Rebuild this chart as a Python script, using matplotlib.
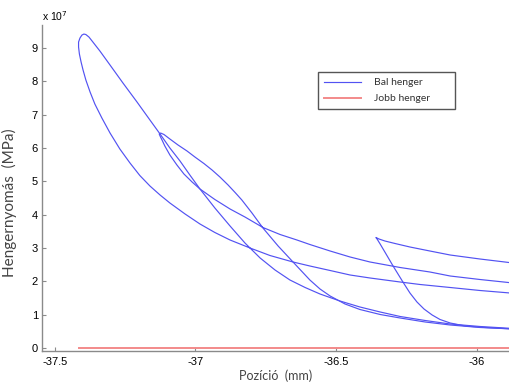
import matplotlib
matplotlib.use('Agg')
import matplotlib.pyplot as plt

plt.rcParams.update({
    'font.family': 'Liberation Sans',
    'font.size': 8,
    'axes.unicode_minus': False,
})

BLUE = '#5252f2'
RED = '#f38a8a'
GREY = '#8a8a8a'

# Bal henger: three passes (pressure in 1e7 Pa)
# pass 1: in along the outer branch, turn at -37.42, out along the steep branch
pass1_x = [-35.881, -35.988, -36.094, -36.201, -36.272, -36.379, -36.450, -36.521,
           -36.593, -36.653, -36.735, -36.806, -36.877, -36.931, -36.984, -37.037,
           -37.091, -37.126, -37.162, -37.198, -37.233, -37.269, -37.304, -37.333,
           -37.358, -37.375, -37.390, -37.400, -37.407, -37.413, -37.416, -37.416,
           -37.411, -37.404, -37.397, -37.390, -37.379, -37.365, -37.340, -37.304,
           -37.258, -37.208, -37.162, -37.126, -37.091, -37.055, -37.020, -36.984,
           -36.931, -36.877, -36.824, -36.770, -36.717, -36.664, -36.610, -36.557,
           -36.486, -36.415, -36.343, -36.272, -36.183, -36.094, -35.988, -35.870]
pass1_p = [1.65, 1.725, 1.815, 1.905, 1.98, 2.10, 2.19, 2.325,
           2.46, 2.58, 2.775, 3.00, 3.24, 3.465, 3.72, 4.02,
           4.35, 4.59, 4.86, 5.175, 5.55, 5.97, 6.45, 6.90,
           7.32, 7.68, 8.04, 8.34, 8.58, 8.82, 9.03, 9.18,
           9.30, 9.39, 9.42, 9.405, 9.33, 9.18, 8.91, 8.49,
           7.95, 7.38, 6.84, 6.42, 6.00, 5.61, 5.19, 4.77,
           4.20, 3.66, 3.15, 2.70, 2.34, 2.04, 1.815, 1.62,
           1.41, 1.23, 1.08, 0.945, 0.825, 0.72, 0.645, 0.585]

# pass 2: turn at -37.13
pass2_x = [-35.870, -35.988, -36.094, -36.166, -36.272, -36.379, -36.450, -36.521,
           -36.593, -36.639, -36.699, -36.760, -36.824, -36.877, -36.931, -36.984,
           -37.012, -37.041, -37.066, -37.091, -37.109, -37.119, -37.126, -37.129,
           -37.124, -37.112, -37.091, -37.062, -37.030, -37.002, -36.970, -36.941,
           -36.913, -36.884, -36.859, -36.835, -36.799, -36.760, -36.706, -36.653,
           -36.593, -36.557, -36.521, -36.468, -36.415, -36.343, -36.272, -36.183,
           -36.094, -35.988, -35.870]
pass2_p = [1.95, 2.055, 2.16, 2.28, 2.415, 2.58, 2.73, 2.91,
           3.105, 3.24, 3.405, 3.615, 3.93, 4.17, 4.455, 4.77,
           4.98, 5.22, 5.49, 5.79, 6.06, 6.24, 6.36, 6.42,
           6.45, 6.405, 6.27, 6.09, 5.91, 5.73, 5.535, 5.34,
           5.13, 4.89, 4.665, 4.44, 4.05, 3.60, 3.06, 2.58,
           2.04, 1.77, 1.56, 1.32, 1.155, 1.005, 0.90, 0.78,
           0.69, 0.615, 0.57]

# pass 3: turn at -36.36
pass3_x = [-35.870, -35.988, -36.094, -36.166, -36.237, -36.290, -36.326, -36.347,
           -36.358, -36.354, -36.343, -36.322, -36.297, -36.262, -36.237, -36.212,
           -36.187, -36.158, -36.130, -36.094, -36.041, -35.970, -35.870]
pass3_p = [2.55, 2.67, 2.79, 2.91, 3.03, 3.135, 3.21, 3.27,
           3.315, 3.27, 3.12, 2.82, 2.46, 1.98, 1.65, 1.38,
           1.17, 0.99, 0.855, 0.75, 0.66, 0.615, 0.57]

# Jobb henger stays at zero
jobb_x = [-37.415, -35.87]
jobb_p = [0.0, 0.0]

fig = plt.figure(figsize=(5.1, 3.83), dpi=100)
ax = fig.add_axes([0.0824, 0.0836, 0.9176, 0.851])

ax.plot(pass1_x, pass1_p, color=BLUE, lw=0.85, label='Bal henger')
ax.plot(pass2_x, pass2_p, color=BLUE, lw=0.85)
ax.plot(pass3_x, pass3_p, color=BLUE, lw=0.85)
ax.plot(jobb_x, jobb_p, color=RED, lw=1.4, label='Jobb henger')

ax.set_xlim(-37.546, -35.881)
ax.set_ylim(-0.09, 9.69)
ax.set_xticks([-37.5, -37, -36.5, -36])
ax.set_xticklabels(['-37.5', '-37', '-36.5', '-36'])
ax.set_yticks(range(10))

for side in ('top', 'right'):
    ax.spines[side].set_visible(False)
for side in ('left', 'bottom'):
    ax.spines[side].set_color(GREY)
    ax.spines[side].set_linewidth(1.0)
ax.tick_params(direction='in', length=3, width=0.8, color=GREY, labelsize=8)
ax.tick_params(axis='y', pad=3)
ax.tick_params(axis='x', pad=4)

ax.set_xlabel('Pozíció  (mm)', family='Lato', fontsize=9, color='#444444')
ax.xaxis.set_label_coords(0.5, -0.058)
ax.set_ylabel('Hengernyomás  (MPa)', family='Lato', fontsize=11, color='#444444')
ax.yaxis.set_label_coords(-0.054, 0.454)

fig.text(0.082, 0.958, r'x 10$^{7}$', fontsize=7.5, va='center', ha='left')

leg = fig.legend(loc='upper left', bbox_to_anchor=(0.614, 0.731, 0.288, 0.094),
                 mode='expand', prop={'family': 'Lato', 'size': 7.5},
                 handlelength=3.5, handletextpad=1.3, borderpad=0.55,
                 labelspacing=0.65, fancybox=False, framealpha=1)
leg.get_frame().set_edgecolor('#555555')
leg.get_frame().set_linewidth(1.0)
for t in leg.get_texts():
    t.set_color('#333333')

fig.savefig('out.png', dpi=100)
